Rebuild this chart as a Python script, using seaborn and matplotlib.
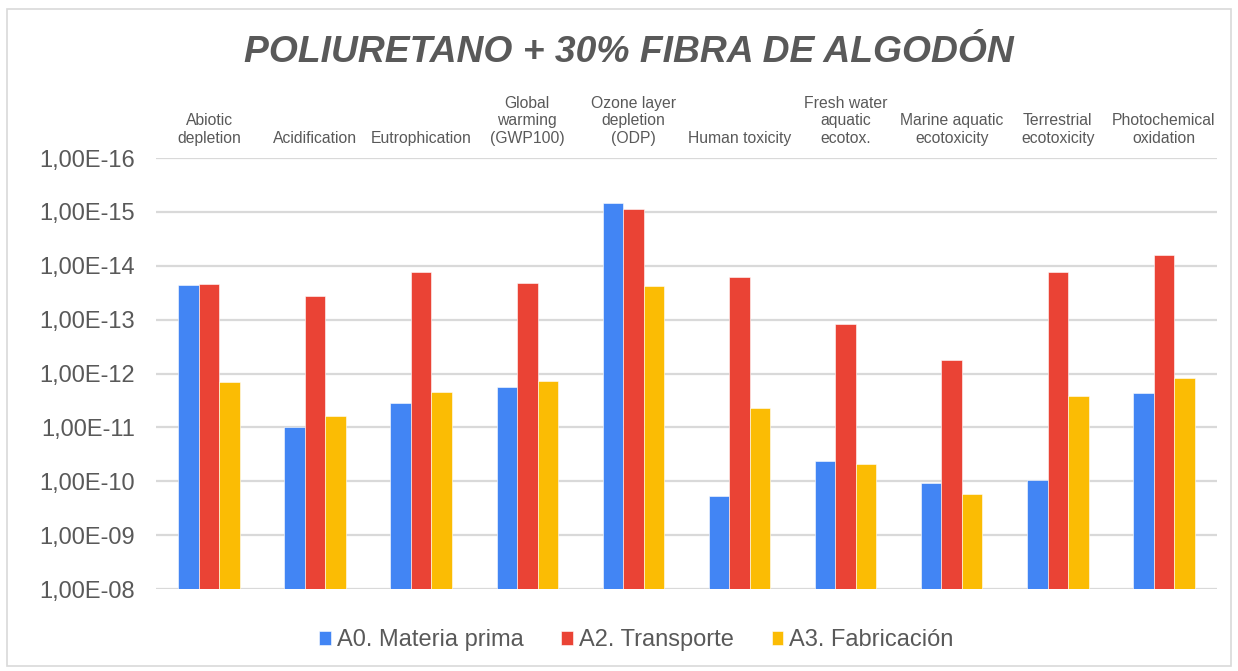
#!/usr/bin/env python3
"""Impact categories for polyurethane + 30% cotton fibre, log scale (inverted)."""

import numpy as np
import pandas as pd
import matplotlib
matplotlib.use('Agg')
import matplotlib.pyplot as plt
from matplotlib.patches import Rectangle
import seaborn as sns

categories = ['Abiotic\ndepletion', 'Acidification', 'Eutrophication',
              'Global\nwarming\n(GWP100)', 'Ozone layer\ndepletion\n(ODP)',
              'Human toxicity', 'Fresh water\naquatic\necotox.',
              'Marine aquatic\necotoxicity', 'Terrestrial\necotoxicity',
              'Photochemical\noxidation']
series = ['A0. Materia prima', 'A2. Transporte', 'A3. Fabricación']

a0_materia = [2.3e-14, 1.0e-11, 3.5e-12, 1.8e-12, 6.8e-16,
              1.9e-10, 4.2e-11, 1.05e-10, 9.5e-11, 2.3e-12]
a2_transporte = [2.2e-14, 3.7e-14, 1.3e-14, 2.1e-14, 8.7e-16,
                 1.6e-14, 1.2e-13, 5.5e-13, 1.3e-14, 6.2e-15]
a3_fabricacion = [1.45e-12, 6.1e-12, 2.2e-12, 1.4e-12, 2.4e-14,
                  4.3e-12, 4.8e-11, 1.7e-10, 2.6e-12, 1.2e-12]

exponents = list(range(8, 17))  # axis runs 1E-08 (bottom) to 1E-16 (top)

colors = ['#4285F4', '#EA4335', '#FBBC04']
grey_txt = '#595959'
grid_col = '#D9D9D9'

# long format; height = decades above 1E-08 on the reversed log axis
rows = []
for name, vals in zip(series, [a0_materia, a2_transporte, a3_fabricacion]):
    for cat, v in zip(categories, vals):
        rows.append({'categoria': cat, 'serie': name, 'valor': v})
df = pd.DataFrame(rows)
df['altura'] = -np.log10(df['valor']) - exponents[0]

sns.set_style('white')
plt.rcParams['font.family'] = ['Liberation Sans', 'DejaVu Sans']

fig = plt.figure(figsize=(12.38, 6.71), dpi=100)
ax = fig.add_axes([0.126, 0.122, 0.857, 0.6425])

sns.barplot(data=df, x='categoria', y='altura', hue='serie',
            order=categories, hue_order=series, palette=colors,
            width=0.58, gap=0, saturation=1, edgecolor='white', linewidth=0.4,
            ax=ax, zorder=3)

ax.set_ylim(0, len(exponents) - 1)
ax.set_yticks(range(len(exponents)))
ax.set_yticklabels([f'1,00E-{e:02d}' for e in exponents], fontsize=17, color=grey_txt)
ax.yaxis.grid(True, color=grid_col, linewidth=1.6, zorder=0)
ax.set_axisbelow(True)

ax.xaxis.tick_top()
ax.set_xticks(range(len(categories)))
ax.set_xticklabels(categories, fontsize=11.3, color=grey_txt, linespacing=1.2)
ax.tick_params(axis='x', length=0, pad=9)
ax.tick_params(axis='y', length=0, pad=15)
ax.set_xlabel('')
ax.set_ylabel('')
for s in ax.spines.values():
    s.set_visible(False)

handles, labels = ax.get_legend_handles_labels()
ax.legend_.remove()
fig.legend(handles, labels, loc='center', bbox_to_anchor=(0.514, 0.046), ncol=3,
           frameon=False, fontsize=17, handlelength=0.5, handleheight=0.55,
           handletextpad=0.25, columnspacing=1.6, labelcolor=grey_txt)

fig.text(0.508, 0.922, 'POLIURETANO + 30% FIBRA DE ALGODÓN', ha='center', va='center',
         fontsize=26.8, fontweight='bold', fontstyle='italic', color=grey_txt)

fig.patches.append(Rectangle((0.006, 0.008), 0.988, 0.979, transform=fig.transFigure,
                             fill=False, edgecolor=grid_col, linewidth=1.2))

plt.savefig('out.png', dpi=100)
print("Saved: out.png")
